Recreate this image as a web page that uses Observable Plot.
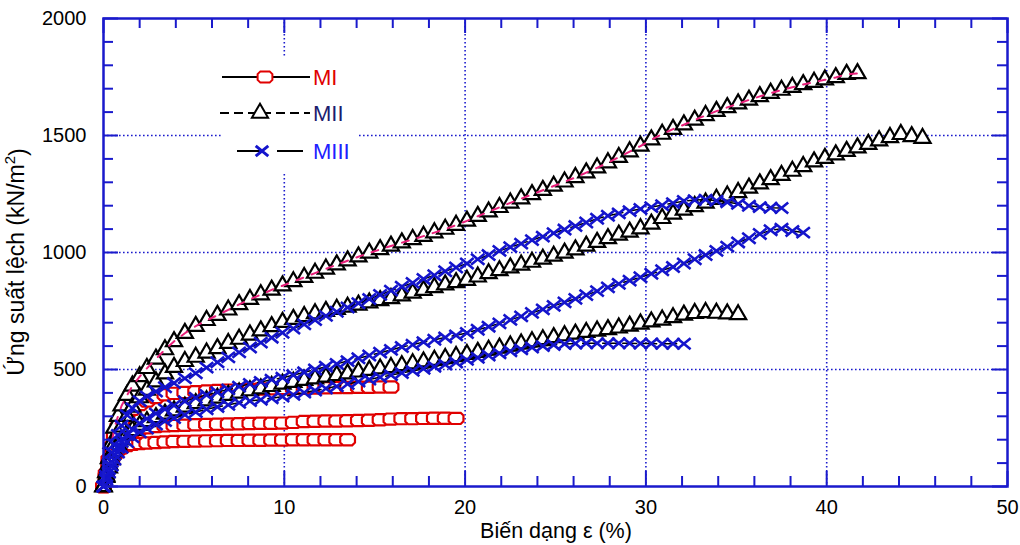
<!DOCTYPE html>
<html>
<head>
<meta charset="utf-8">
<script src="https://cdn.jsdelivr.net/npm/d3@7"></script>
<script src="https://cdn.jsdelivr.net/npm/@observablehq/plot@0.6"></script>
<style>
  html, body { margin: 0; padding: 0; background: #fff; }
  #chart { position: relative; width: 1020px; height: 545px; font-family: "Liberation Sans", Arial, sans-serif; }
  #legend { position: absolute; left: 0; top: 0; pointer-events: none; }
</style>
</head>
<body>
<div id="chart"></div>
<script>
// ---------- data ----------
const strain = [0, 0.15, 0.3, 0.45, 0.6, 0.8, 1.0, 1.3, 1.6, 2.0, 2.4, 2.9, 3.4, 3.9, 4.5,
  5.1, 5.7, 6.3, 6.9, 7.5, 8.1, 8.7, 9.3, 9.9, 10.5, 11.1, 11.7, 12.3, 12.9, 13.5,
  14.1, 14.7, 15.3, 15.9, 16.5, 17.1, 17.7, 18.3, 18.9, 19.5, 20.1, 20.7, 21.3, 21.9,
  22.5, 23.1, 23.7, 24.3, 24.9, 25.5, 26.1, 26.7, 27.3, 27.9, 28.5, 29.1, 29.7, 30.3,
  30.9, 31.5, 32.1, 32.7, 33.3, 33.9, 34.5, 35.1, 35.7, 36.3, 36.9, 37.5, 38.1, 38.7,
  39.3, 39.9, 40.5, 41.1, 41.7, 42.3, 42.9, 43.5, 44.1, 44.7, 45.3];

const mI_1 = [0, 40, 80, 110, 135, 155, 165, 175, 180, 184, 186, 188, 190, 192, 193,
  194, 195, 196, 197, 197, 198, 198, 199, 199, 200, 200, 200, 200, 200, 200];
const mI_2 = [0, 45, 95, 135, 165, 190, 205, 222, 235, 245, 251, 256, 259, 261, 262,
  264, 265, 266, 267, 268, 269, 270, 270, 271, 274, 278, 279, 280, 280, 281,
  282, 283, 285, 288, 290, 290, 291, 292, 292, 291];
const mI_3 = [0, 55, 115, 170, 215, 255, 280, 310, 330, 350, 365, 380, 392, 398, 402,
  405, 408, 410, 412, 414, 415, 417, 418, 419, 420, 420, 421, 422, 423, 423,
  424, 424, 425, 425];

const mII_1 = [0, 60, 120, 185, 250, 300, 345, 390, 430, 470, 505, 545, 585, 620, 655,
  685, 710, 732, 755, 778, 800, 820, 840, 858, 876, 894, 912, 930, 948, 965,
  982, 998, 1013, 1028, 1042, 1056, 1070, 1085, 1100, 1117, 1135, 1155, 1174, 1193,
  1212, 1230, 1248, 1266, 1284, 1302, 1321, 1341, 1362, 1384, 1407, 1431, 1455, 1482,
  1506, 1527, 1546, 1566, 1586, 1604, 1620, 1636, 1652, 1667, 1681, 1694, 1706, 1718,
  1728, 1738, 1748, 1762, 1765];
const mII_2 = [0, 45, 95, 140, 180, 220, 255, 300, 340, 380, 412, 448, 482, 510, 535,
  553, 571, 590, 612, 630, 648, 666, 684, 702, 715, 727, 739, 749, 758, 767,
  776, 785, 795, 804, 815, 827, 839, 851, 862, 872, 882, 896, 910, 923,
  935, 947, 959, 972, 985, 998, 1012, 1028, 1044, 1060, 1075, 1088, 1102, 1122,
  1146, 1165, 1182, 1197, 1212, 1228, 1242, 1257, 1276, 1294, 1312, 1330, 1348, 1368,
  1388, 1403, 1418, 1433, 1448, 1463, 1478, 1492, 1505, 1496, 1488];
const mII_3 = [0, 40, 80, 115, 150, 178, 200, 222, 240, 262, 278, 295, 310, 324, 340,
  355, 367, 378, 390, 400, 410, 418, 428, 438, 446, 454, 461, 468, 475, 482,
  490, 497, 503, 509, 517, 525, 533, 540, 548, 556, 565, 574, 583, 592,
  601, 610, 619, 628, 637, 645, 652, 659, 665, 671, 678, 686, 695, 704,
  712, 722, 733, 740, 744, 741, 738, 735];

const mIII_1 = [0, 45, 95, 145, 180, 220, 260, 305, 335, 365, 385, 406, 424, 442, 462,
  484, 508, 531, 552, 573, 594, 615, 636, 657, 675, 693, 711, 729, 747, 765,
  783, 801, 819, 837, 854, 870, 887, 903, 920, 936, 953, 971, 989, 1007,
  1023, 1038, 1053, 1068, 1083, 1098, 1113, 1128, 1144, 1157, 1167, 1177, 1186, 1194,
  1202, 1211, 1220, 1224, 1226, 1221, 1215, 1208, 1200, 1194, 1191, 1190];
const mIII_2 = [0, 35, 75, 105, 135, 165, 190, 220, 245, 270, 290, 312, 330, 346, 364,
  379, 391, 403, 415, 427, 438, 447, 456, 465, 476, 488, 500, 512, 524, 536,
  548, 560, 572, 584, 596, 606, 617, 627, 637, 646, 656, 670, 683, 697,
  712, 727, 742, 757, 772, 787, 802, 818, 835, 851, 866, 880, 894, 909,
  924, 938, 953, 971, 989, 1007, 1025, 1043, 1061, 1079, 1095, 1102, 1092, 1085];
const mIII_3 = [0, 28, 60, 88, 115, 145, 165, 190, 210, 232, 248, 265, 280, 292, 306,
  318, 330, 340, 349, 358, 365, 371, 377, 384, 392, 401, 410, 419, 428, 438,
  448, 457, 467, 476, 485, 494, 503, 512, 521, 530, 541, 550, 560, 569,
  578, 586, 594, 600, 605, 609, 611, 612, 612, 612, 612, 612, 611, 611,
  610, 610, 610];

const seriesNames = ["MI", "MII", "MIII"];
const xTicks = [0, 10, 20, 30, 40, 50];
const xMinor = [2, 4, 6, 8, 12, 14, 16, 18, 22, 24, 26, 28, 32, 34, 36, 38, 42, 44, 46, 48];
const yTicks = [0, 500, 1000, 1500, 2000];
const yMinor = [100, 200, 300, 400, 600, 700, 800, 900, 1100, 1200, 1300, 1400, 1600, 1700, 1800, 1900];
const xGrid = [10, 20, 30, 40];
const yGrid = [500, 1000, 1500];
const xLabel = "Biến dạng ε (%)";
const yLabel = "Ứng suất lệch (kN/m";
const yLabelSup = "2";

// ---------- build tables ----------
function rows(series, curves) {
  return curves.flatMap((ys, c) => ys.map((v, i) => ({x: strain[i], y: v, series, curve: series + "-" + c})));
}
const rowsMI = rows("MI", [mI_1, mI_2, mI_3]);
const rowsMII = rows("MII", [mII_1, mII_2, mII_3]);
const rowsMIII = rows("MIII", [mIII_1, mIII_2, mIII_3]);
const rowsMIItop = rows("MII", [mII_1]);

// ---------- styles ----------
const W = 1020, H = 545, mT = 18, mB = 59, mL = 103, mR = 13;
const pw = W - mL - mR, ph = H - mT - mB;
const frameBlue = "#1a1acc";
const markBlue = "#1414cc";
const red = "#e00000";
const font = "'Liberation Sans', Arial, sans-serif";

const octagon = {draw(ctx, size) {
  const r = Math.sqrt(size / Math.PI);
  const w = r * 1.12, h = r * 0.85, c = r * 0.42;
  ctx.moveTo(-w + c, -h); ctx.lineTo(w - c, -h); ctx.lineTo(w, -h + c); ctx.lineTo(w, h - c);
  ctx.lineTo(w - c, h); ctx.lineTo(-w + c, h); ctx.lineTo(-w, h - c); ctx.lineTo(-w, -h + c); ctx.closePath();
}};
const xmark = {draw(ctx, size) {
  const r = Math.sqrt(size / Math.PI);
  const w = r * 1.05, h = r * 0.85;
  ctx.moveTo(-w, -h); ctx.lineTo(w, h); ctx.moveTo(-w, h); ctx.lineTo(w, -h);
}};

const gridStyle = {stroke: frameBlue, strokeWidth: 1.6, strokeDasharray: "1.6,2.4"};
const tickStyle = {stroke: frameBlue, strokeWidth: 2};

const plot = Plot.plot({
  width: W, height: H,
  marginTop: mT, marginBottom: mB, marginLeft: mL, marginRight: mR,
  x: {domain: [0, 50]},
  y: {domain: [0, 2000]},
  style: {fontFamily: font, fontSize: "20px", color: "black", background: "white"},
  marks: [
    Plot.ruleX(xGrid, {x: d => d, ...gridStyle}),
    Plot.ruleY(yGrid, {y: d => d, ...gridStyle}),

    Plot.line(rowsMI, {x: "x", y: "y", z: "curve", stroke: "black", strokeWidth: 1.5}),
    Plot.dot(rowsMI, {x: "x", y: "y", symbol: octagon, r: 6.6, stroke: red, strokeWidth: 2.2, fill: "white"}),

    Plot.line(rowsMII, {x: "x", y: "y", z: "curve", stroke: "black", strokeWidth: 1.5, strokeDasharray: "6,4"}),
    Plot.dot(rowsMII, {x: "x", y: "y", symbol: "triangle", r: 6, stroke: "black", strokeWidth: 2.2, fill: "white"}),
    Plot.line(rowsMIItop, {x: "x", y: "y", stroke: "#e8207a", strokeWidth: 2, strokeDasharray: "7,9"}),

    Plot.line(rowsMIII, {x: "x", y: "y", z: "curve", stroke: "black", strokeWidth: 1.5, strokeDasharray: "14,6"}),
    Plot.dot(rowsMIII, {x: "x", y: "y", symbol: xmark, r: 6.4, stroke: markBlue, strokeWidth: 2.6, fill: "none"}),

    // inward ticks on all four sides
    Plot.tickX(xMinor, {x: d => d, insetTop: ph - 10, ...tickStyle}),
    Plot.tickX(xMinor, {x: d => d, insetBottom: ph - 10, ...tickStyle}),
    Plot.tickX(xTicks, {x: d => d, insetTop: ph - 15, ...tickStyle}),
    Plot.tickX(xTicks, {x: d => d, insetBottom: ph - 15, ...tickStyle}),
    Plot.tickY(yMinor, {y: d => d, insetRight: pw - 10, ...tickStyle}),
    Plot.tickY(yMinor, {y: d => d, insetLeft: pw - 10, ...tickStyle}),
    Plot.tickY(yTicks, {y: d => d, insetRight: pw - 15, ...tickStyle}),
    Plot.tickY(yTicks, {y: d => d, insetLeft: pw - 15, ...tickStyle}),
    Plot.frame({stroke: frameBlue, strokeWidth: 2.5}),

    Plot.axisX({ticks: xTicks, tickSize: 0, tickPadding: 13, fontSize: 20, tickFormat: d => String(d), label: null}),
    Plot.axisY({ticks: yTicks, tickSize: 0, tickPadding: 17, fontSize: 20, tickFormat: d => String(d), label: null})
  ]
});

const chart = document.getElementById("chart");
chart.appendChild(plot);

// ---------- overlay: axis titles and legend ----------
const leg = d3.select(chart).append("svg").attr("id", "legend").attr("width", W).attr("height", H);

leg.append("text").attr("x", 556).attr("y", 530).attr("dy", "0.36em").attr("text-anchor", "middle")
  .attr("font-family", font).attr("font-size", 21.5).attr("fill", "black").text(xLabel);
const yt = leg.append("text").attr("transform", "translate(16,262) rotate(-90)").attr("text-anchor", "middle")
  .attr("dy", "0.36em").attr("font-family", font).attr("font-size", 23).attr("fill", "black");
yt.append("tspan").text(yLabel);
yt.append("tspan").attr("font-size", 15).attr("dy", "-0.6em").text(yLabelSup);
yt.append("tspan").attr("dy", "0.45em").text(")");

leg.append("rect").attr("x", 222).attr("y", 58).attr("width", 136).attr("height", 116).attr("fill", "white");
const legendItems = [
  {name: seriesNames[0], y: 77, x1: 222, x2: 310, dash: null, mx: 265, sym: octagon, size: Math.PI * 6.6 * 6.6,
    mstroke: red, mfill: "white", msw: 2, color: "#e00000"},
  {name: seriesNames[1], y: 113, x1: 220, x2: 310, dash: "9,5", mx: 260, sym: d3.symbolTriangle, size: Math.PI * 36,
    mstroke: "black", mfill: "white", msw: 2, color: "#1c1c6e"},
  {name: seriesNames[2], y: 151, x1: 237, x2: 303, dash: "27,13", mx: 262, sym: xmark, size: Math.PI * 36,
    mstroke: markBlue, mfill: "none", msw: 3, color: "#2020ff"}
];
for (const it of legendItems) {
  leg.append("line").attr("x1", it.x1).attr("x2", it.x2).attr("y1", it.y).attr("y2", it.y)
    .attr("stroke", "black").attr("stroke-width", 2).attr("stroke-dasharray", it.dash);
  leg.append("path").attr("transform", `translate(${it.mx},${it.y})`)
    .attr("d", d3.symbol(it.sym, it.size)())
    .attr("stroke", it.mstroke).attr("fill", it.mfill).attr("stroke-width", it.msw);
  leg.append("text").attr("x", 313).attr("y", it.y).attr("dy", "0.36em")
    .attr("fill", it.color).attr("font-size", 22)
    .attr("font-family", font).text(it.name);
}
</script>
</body>
</html>
